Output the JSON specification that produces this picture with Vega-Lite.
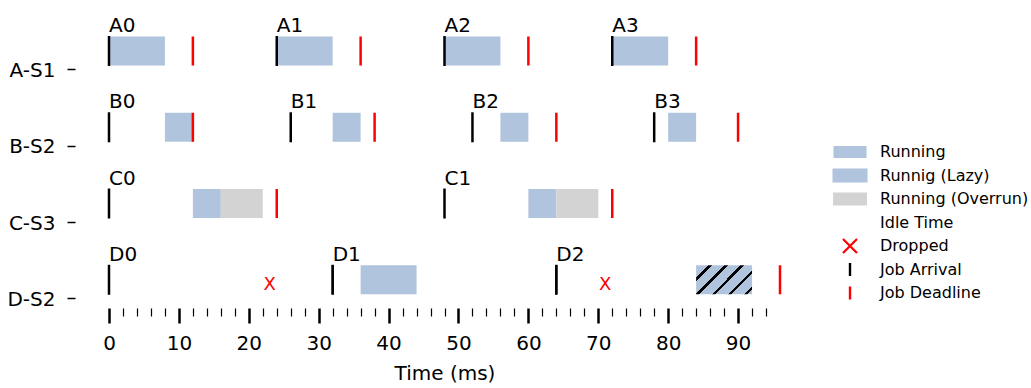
{
  "$schema": "https://vega.github.io/schema/vega-lite/v6.json",
  "width": 671,
  "height": 305,
  "autosize": {"type": "none"},
  "padding": {"left": 109, "top": 0, "right": 251, "bottom": 83},
  "config": {
    "font": "DejaVu Sans",
    "view": {"stroke": null},
    "axis": {"grid": false, "domain": false, "labelColor": "black", "tickColor": "black", "titleColor": "black", "labelFont": "DejaVu Sans", "titleFont": "DejaVu Sans"}
  },
  "datasets": {
    "bars": [
      {"task": "A-S1", "start": 0, "end": 8, "kind": "run"},
      {"task": "A-S1", "start": 24, "end": 32, "kind": "run"},
      {"task": "A-S1", "start": 48, "end": 56, "kind": "run"},
      {"task": "A-S1", "start": 72, "end": 80, "kind": "run"},
      {"task": "B-S2", "start": 8, "end": 12, "kind": "run"},
      {"task": "B-S2", "start": 32, "end": 36, "kind": "run"},
      {"task": "B-S2", "start": 56, "end": 60, "kind": "run"},
      {"task": "B-S2", "start": 80, "end": 84, "kind": "run"},
      {"task": "C-S3", "start": 12, "end": 16, "kind": "run"},
      {"task": "C-S3", "start": 16, "end": 22, "kind": "overrun"},
      {"task": "C-S3", "start": 60, "end": 64, "kind": "run"},
      {"task": "C-S3", "start": 64, "end": 70, "kind": "overrun"},
      {"task": "D-S2", "start": 36, "end": 44, "kind": "run"},
      {"task": "D-S2", "start": 84, "end": 92, "kind": "hatch"}
    ],
    "jobs": [
      {"task": "A-S1", "job": "A0", "arrival": 0, "deadline": 12},
      {"task": "A-S1", "job": "A1", "arrival": 24, "deadline": 36},
      {"task": "A-S1", "job": "A2", "arrival": 48, "deadline": 60},
      {"task": "A-S1", "job": "A3", "arrival": 72, "deadline": 84},
      {"task": "B-S2", "job": "B0", "arrival": 0, "deadline": 12},
      {"task": "B-S2", "job": "B1", "arrival": 26, "deadline": 38},
      {"task": "B-S2", "job": "B2", "arrival": 52, "deadline": 64},
      {"task": "B-S2", "job": "B3", "arrival": 78, "deadline": 90},
      {"task": "C-S3", "job": "C0", "arrival": 0, "deadline": 24},
      {"task": "C-S3", "job": "C1", "arrival": 48, "deadline": 72},
      {"task": "D-S2", "job": "D0", "arrival": 0, "deadline": 32},
      {"task": "D-S2", "job": "D1", "arrival": 32, "deadline": 64},
      {"task": "D-S2", "job": "D2", "arrival": 64, "deadline": 96}
    ],
    "dropped": [
      {"task": "D-S2", "time": 23},
      {"task": "D-S2", "time": 71}
    ],
    "legend": []
  },
  "layer": [
    {
      "data": {"name": "bars"},
      "transform": [{"filter": "datum.kind === 'run'"}],
      "mark": {"type": "bar", "height": 29, "yOffset": 12.9, "fill": "#B0C4DE", "stroke": null},
      "encoding": {
        "x": {
          "field": "start", "type": "quantitative", "title": "Time (ms)",
          "scale": {"domain": [0, 96], "nice": false, "zero": false},
          "axis": {
            "values": [0, 2, 4, 6, 8, 10, 12, 14, 16, 18, 20, 22, 24, 26, 28, 30, 32, 34, 36, 38, 40, 42, 44, 46, 48, 50, 52, 54, 56, 58, 60, 62, 64, 66, 68, 70, 72, 74, 76, 78, 80, 82, 84, 86, 88, 90, 92, 94],
            "tickCount": 200,
            "format": "d",
            "labelExpr": "datum.value % 10 === 0 ? datum.label : ''",
            "labelOverlap": false,
            "labelFlush": false,
            "offset": 3,
            "tickSize": {"condition": {"test": "datum.value % 10 === 0", "value": 15}, "value": 8},
            "tickWidth": {"condition": {"test": "datum.value % 10 === 0", "value": 2.5}, "value": 1.2},
            "labelFontSize": 20,
            "labelPadding": 10,
            "titleFontSize": 20,
            "titleFontWeight": "normal",
            "titlePadding": 10
          }
        },
        "x2": {"field": "end"},
        "y": {
          "field": "task", "type": "nominal", "title": null,
          "scale": {"type": "band", "domain": ["A-S1", "B-S2", "C-S3", "D-S2"], "paddingInner": 0, "paddingOuter": 0},
          "axis": {
            "bandPosition": 0.918,
            "labelOffset": 33,
            "offset": 34,
            "tickSize": 8,
            "tickWidth": 1.5,
            "labelFontSize": 20,
            "labelPadding": 12
          }
        }
      }
    },
    {
      "data": {"name": "bars"},
      "transform": [{"filter": "datum.kind === 'overrun'"}],
      "mark": {"type": "bar", "height": 29, "yOffset": 12.9, "fill": "#D3D3D3", "stroke": null},
      "encoding": {
        "x": {"field": "start", "type": "quantitative", "title": "Time (ms)"},
        "x2": {"field": "end"},
        "y": {"field": "task", "type": "nominal", "title": null}
      }
    },
    {
      "data": {"name": "bars"},
      "transform": [{"filter": "datum.kind === 'hatch'"}],
      "mark": {
        "type": "bar", "height": 29, "yOffset": 12.9, "stroke": null,
        "fill": {
          "gradient": "linear", "x1": 0, "y1": 0, "x2": 1.2, "y2": 0.62,
          "stops": [
            {"offset": 0, "color": "#B0C4DE"},
            {"offset": 0.144, "color": "#B0C4DE"}, {"offset": 0.144, "color": "#000000"},
            {"offset": 0.186, "color": "#000000"}, {"offset": 0.186, "color": "#B0C4DE"},
            {"offset": 0.334, "color": "#B0C4DE"}, {"offset": 0.334, "color": "#000000"},
            {"offset": 0.376, "color": "#000000"}, {"offset": 0.376, "color": "#B0C4DE"},
            {"offset": 0.524, "color": "#B0C4DE"}, {"offset": 0.524, "color": "#000000"},
            {"offset": 0.566, "color": "#000000"}, {"offset": 0.566, "color": "#B0C4DE"},
            {"offset": 0.714, "color": "#B0C4DE"}, {"offset": 0.714, "color": "#000000"},
            {"offset": 0.756, "color": "#000000"}, {"offset": 0.756, "color": "#B0C4DE"},
            {"offset": 0.904, "color": "#B0C4DE"}, {"offset": 0.904, "color": "#000000"},
            {"offset": 0.946, "color": "#000000"}, {"offset": 0.946, "color": "#B0C4DE"},
            {"offset": 1, "color": "#B0C4DE"}
          ]
        }
      },
      "encoding": {
        "x": {"field": "start", "type": "quantitative", "title": "Time (ms)"},
        "x2": {"field": "end"},
        "y": {"field": "task", "type": "nominal", "title": null}
      }
    },
    {
      "data": {"name": "jobs"},
      "mark": {"type": "tick", "thickness": 2.5, "size": 29, "yOffset": 12.9, "color": "#FF0000", "opacity": 1},
      "encoding": {
        "x": {"field": "deadline", "type": "quantitative", "title": "Time (ms)"},
        "y": {"field": "task", "type": "nominal", "title": null}
      }
    },
    {
      "data": {"name": "jobs"},
      "mark": {"type": "tick", "thickness": 2.5, "size": 30, "yOffset": 12.9, "color": "#000000", "opacity": 1},
      "encoding": {
        "x": {"field": "arrival", "type": "quantitative", "title": "Time (ms)"},
        "y": {"field": "task", "type": "nominal", "title": null}
      }
    },
    {
      "data": {"name": "jobs"},
      "mark": {"type": "text", "align": "left", "baseline": "alphabetic", "dy": -6, "fontSize": 20, "color": "#000000"},
      "encoding": {
        "x": {"field": "arrival", "type": "quantitative", "title": "Time (ms)"},
        "y": {"field": "task", "type": "nominal", "title": null},
        "text": {"field": "job"}
      }
    },
    {
      "data": {"name": "dropped"},
      "mark": {"type": "text", "text": "X", "align": "center", "baseline": "middle", "dy": 18, "fontSize": 18, "color": "#FF0000"},
      "encoding": {
        "x": {"field": "time", "type": "quantitative", "title": "Time (ms)"},
        "y": {"field": "task", "type": "nominal", "title": null}
      }
    },
    {
      "data": {"name": "legend"},
      "mark": {"type": "point", "filled": true, "opacity": 1},
      "encoding": {
        "color": {
          "field": "status", "type": "nominal",
          "scale": {
            "domain": ["Running", "Runnig (Lazy)", "Running (Overrun)", "Idle Time", "Dropped", "Job Arrival", "Job Deadline"],
            "range": ["#B0C4DE", "#B0C4DE", "#D3D3D3", "#FFFFFF", "#FF0000", "#000000", "#FF0000"]
          },
          "legend": {
            "title": null,
            "orient": "none",
            "legendX": 731,
            "legendY": 142,
            "symbolSize": 400,
            "symbolStrokeWidth": 0,
            "symbolOpacity": 1,
            "labelFontSize": 16,
            "labelFont": "DejaVu Sans",
            "labelColor": "black",
            "labelOffset": 20,
            "labelLimit": 400,
            "rowPadding": 5.5,
            "padding": 0
          }
        },
        "shape": {
          "field": "status", "type": "nominal",
          "scale": {
            "domain": ["Running", "Runnig (Lazy)", "Running (Overrun)", "Idle Time", "Dropped", "Job Arrival", "Job Deadline"],
            "range": [
              "M-1.65,-0.6H1.65V0.6H-1.65Z",
              "M-1.75,-0.7H1.75V0.7H-1.75Z",
              "M-1.7,-0.65H1.7V0.65H-1.7Z",
              "M-1.7,-0.65H1.7V0.65H-1.7Z",
              "M-0.62,-0.78L0.78,0.62L0.62,0.78L-0.78,-0.62Z M0.62,-0.78L0.78,-0.62L-0.62,0.78L-0.78,0.62Z",
              "M-0.12,-0.65H0.12V0.65H-0.12Z",
              "M-0.12,-0.65H0.12V0.65H-0.12Z"
            ]
          }
        }
      }
    }
  ]
}
